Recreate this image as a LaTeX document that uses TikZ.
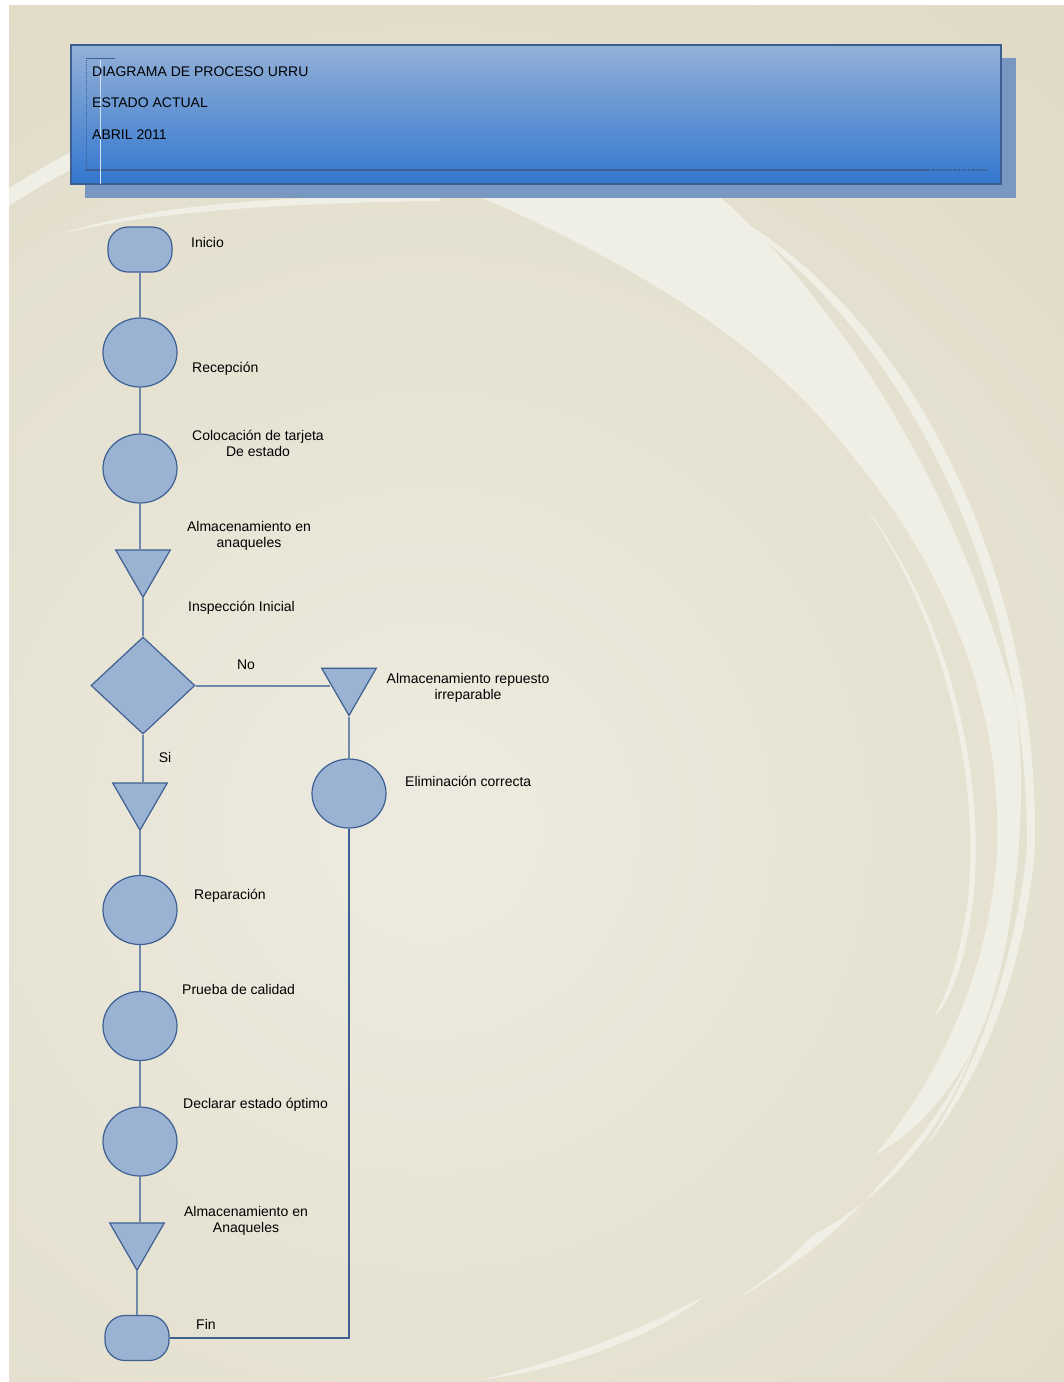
\documentclass[tikz,border=0pt]{standalone}
\usepackage{fontspec}
\setmainfont{Liberation Sans}
\usetikzlibrary{shapes.geometric}
\definecolor{beige}{HTML}{E0DAC6}
\definecolor{beigelight}{HTML}{EDEBE0}
\definecolor{swoosh}{HTML}{EFEFE6}
\definecolor{hdtop}{HTML}{93B0D7}
\definecolor{hdbot}{HTML}{3377CF}
\definecolor{hdshadow}{HTML}{7897C1}
\definecolor{hdline}{HTML}{3B5E93}
\definecolor{shapefill}{HTML}{9AB3D3}
\definecolor{shapeline}{HTML}{3D5F92}
\definecolor{connline}{HTML}{7089AA}
\begin{document}
\begin{tikzpicture}[x=1pt, y=-1pt,
    every node/.style={font=\fontsize{14pt}{16pt}\selectfont, text=black},
    terminal/.style={draw=shapeline, fill=shapefill, line width=1.2pt, rectangle, rounded corners=20pt, minimum width=64pt, minimum height=45pt, inner sep=0pt},
    operation/.style={draw=shapeline, fill=shapefill, line width=1.2pt, ellipse, minimum width=74pt, minimum height=69pt, inner sep=0pt},
    storage/.style={draw=shapeline, fill=shapefill, line width=1.2pt, regular polygon, regular polygon sides=3, shape border rotate=180, minimum size=63pt, inner sep=0pt},
    decision/.style={draw=shapeline, fill=shapefill, line width=1.2pt, diamond, minimum width=104pt, minimum height=97pt, inner sep=0pt},
    conn/.style={draw=connline, line width=2pt},
    connback/.style={draw=shapeline, line width=1.2pt},
    lbl/.style={align=center, inner sep=0pt}]
    \useasboundingbox (0,0) rectangle (1064,1382);
    \fill[white] (0,0) rectangle (1064,1382);
    \begin{scope}
      \clip (9,5) rectangle (1064,1382);
      \fill[beige] (9,5) rectangle (1064,1382);
      \shade[inner color=beigelight, outer color=beige] (430,830) circle (1000);
      \fill[swoosh] (9,188) .. controls (30,175) and (55,160) .. (75,150) -- (75,168) .. controls (50,180) and (30,192) .. (9,206) -- cycle;
      \fill[swoosh] (60,234) .. controls (150,205) and (280,195) .. (440,196) -- (440,201) .. controls (280,203) and (150,212) .. (60,234) -- cycle;
      \fill[swoosh] (480,197) -- (720,197) .. controls (770,240) and (930,400) .. (1015,700) .. controls (1030,800) and (1015,930) .. (989,1010) .. controls (965,1080) and (920,1130) .. (875,1155) .. controls (930,1090) and (990,980) .. (997,850) .. controls (1003,700) and (940,560) .. (853,457) .. controls (810,400) and (720,300) .. (480,197) -- cycle;
      \fill[swoosh] (700,198) .. controls (900,290) and (1040,560) .. (1035,850) .. controls (1022,980) and (980,1080) .. (925,1147) .. controls (972,1075) and (1012,980) .. (1027,850) .. controls (1030,570) and (890,300) .. (700,198) -- cycle;
      \fill[swoosh] (860,500) .. controls (940,600) and (988,760) .. (973,900) .. controls (966,960) and (952,1000) .. (932,1020) .. controls (948,995) and (960,955) .. (968,900) .. controls (982,760) and (934,600) .. (860,500) -- cycle;
      \fill[swoosh] (980,1030) .. controls (950,1130) and (880,1200) .. (813,1235) .. controls (790,1260) and (760,1285) .. (730,1303) .. controls (780,1275) and (830,1240) .. (870,1195) .. controls (920,1140) and (960,1090) .. (980,1030) -- cycle;
      \fill[swoosh] (705,1296) .. controls (640,1330) and (560,1362) .. (480,1380) .. controls (570,1368) and (650,1338) .. (705,1296) -- cycle;
    \end{scope}
    \fill[hdshadow] (85,58) rectangle (1016,198);
    \shadedraw[top color=hdtop, bottom color=hdbot, draw=hdline, line width=1.5pt] (71,45) rectangle (1001,184);
    \draw[hdline, line width=1pt] (86,58) -- (115,58);
    \draw[hdline, line width=1pt, densely dotted] (86,58) -- (86,170);
    \draw[hdline, line width=1.5pt] (86,170) -- (928,170);
    \draw[hdline, line width=1.5pt, densely dotted] (928,170) -- (986,170);
    \draw[white!60!hdtop, line width=0.6pt] (100,60) -- (100,184);
    \node[anchor=west, inner sep=0pt] (hdA) at (92,72) {DIAGRAMA DE PROCESO URRU};
    \node[anchor=west, inner sep=0pt] (hdB) at (92,103) {ESTADO ACTUAL};
    \node[anchor=west, inner sep=0pt] (hdC) at (92,135) {ABRIL 2011};

    \node[terminal] (ini) at (140,249.5) {};
    \node[operation] (rec) at (140,352.5) {};
    \node[operation] (col) at (140,468.5) {};
    \node[storage] (almA) at (143,565.75) {};
    \node[decision] (dec) at (143,685.5) {};
    \node[storage] (almB) at (349,684) {};
    \node[operation] (elim) at (349,793.5) {};
    \node[storage] (almC) at (140,798.75) {};
    \node[operation] (rep) at (140,910) {};
    \node[operation] (pru) at (140,1026) {};
    \node[operation] (dcl) at (140,1141.5) {};
    \node[storage] (almD) at (137,1238.75) {};
    \node[terminal] (fin) at (137,1338) {};

    \draw[conn] (ini.south) -- (rec.north);
    \draw[conn] (rec.south) -- (col.north);
    \draw[conn] (col.south) -- (col.south |- almA.north);
    \draw[conn] (almA.south) -- (dec.north);
    \draw[conn] (dec.east) -- (dec.east -| almB.west);
    \draw[conn] (almB.south) -- (elim.north);
    \draw[conn] (dec.south) -- (dec.south |- almC.north);
    \draw[conn] (almC.south) -- (rep.north);
    \draw[conn] (rep.south) -- (pru.north);
    \draw[conn] (pru.south) -- (dcl.north);
    \draw[conn] (dcl.south) -- (dcl.south |- almD.north);
    \draw[conn] (almD.south) -- (fin.north);
    \draw[connback] (elim.south) |- (fin.east);

    \node[lbl, anchor=west] (tIni) at (191,242) {Inicio};
    \node[lbl, anchor=west] (tRec) at (192,369) {Recepción};
    \node[lbl] (tCol) at (258,443) {Colocación de tarjeta\\De estado};
    \node[lbl] (tAlmA) at (249,536) {Almacenamiento en\\anaqueles};
    \node[lbl, anchor=west] (tIns) at (188,608) {Inspección Inicial};
    \node[lbl] (tNo) at (246,665) {No};
    \node[lbl] (tAlmB) at (468,688) {Almacenamiento repuesto\\irreparable};
    \node[lbl] (tSi) at (165,757) {Si};
    \node[lbl, anchor=west] (tElim) at (405,781) {Eliminación correcta};
    \node[lbl, anchor=west] (tRep) at (194,896) {Reparación};
    \node[lbl, anchor=west] (tPru) at (182,989) {Prueba de calidad};
    \node[lbl, anchor=west] (tDcl) at (183,1105) {Declarar estado óptimo};
    \node[lbl] (tAlmD) at (246,1221) {Almacenamiento en\\Anaqueles};
    \node[lbl, anchor=west] (tFin) at (196,1324) {Fin};
\end{tikzpicture}
\end{document}
